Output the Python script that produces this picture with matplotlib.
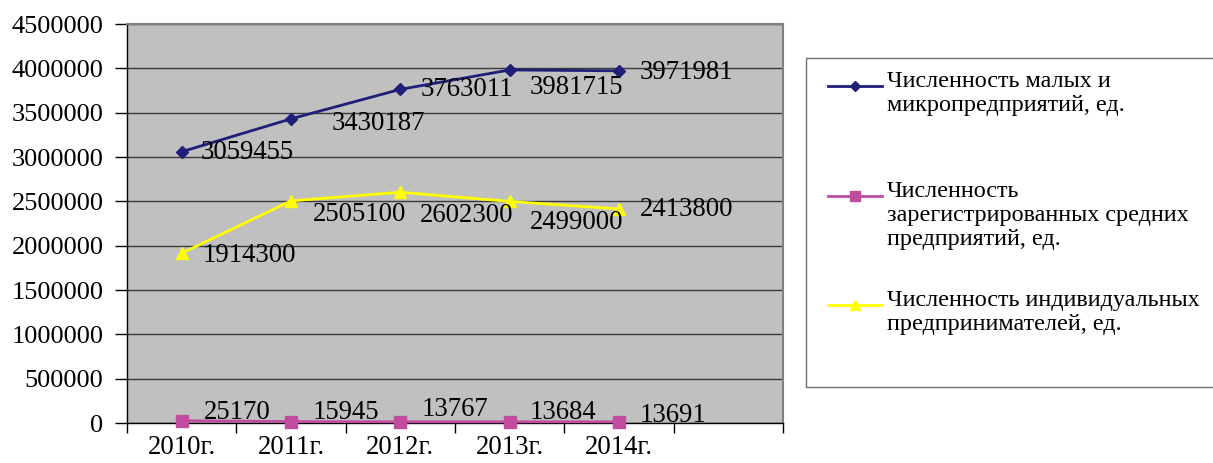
import matplotlib
matplotlib.use("Agg")
import matplotlib.pyplot as plt
from matplotlib.lines import Line2D
from matplotlib.patches import Rectangle

# --- data ---
years = ["2010г.", "2011г.", "2012г.", "2013г.", "2014г."]
small_micro = [3059455, 3430187, 3763011, 3981715, 3971981]
medium = [25170, 15945, 13767, 13684, 13691]
entrepreneurs = [1914300, 2505100, 2602300, 2499000, 2413800]

series_names = [
    "Численность малых и\nмикропредприятий, ед.",
    "Численность\nзарегистрированных средних\nпредприятий, ед.",
    "Численность индивидуальных\nпредпринимателей, ед.",
]

# label offsets in pixels (dx, dy) relative to each point, picked by eye
small_offsets = [(19, -1), (41, -5), (20, 0), (20, -18), (21, -2)]
medium_offsets = [(22, 8), (22, 9), (21, 12), (20, 9), (21, 6)]
entre_offsets = [(21, -2), (22, -14), (20, -23), (20, -21), (21, -1)]

plt.rcParams["font.family"] = ["Liberation Serif", "DejaVu Serif"]

fig = plt.figure(figsize=(12.13, 4.63), dpi=100)
ax = fig.add_axes([127 / 1213, 1 - 423 / 463, 656 / 1213, 399 / 463])
ax.set_facecolor("#c0c0c0")

x = list(range(len(years)))
styles = [
    (small_micro, "#1f1f7a", "D", 6, small_offsets),
    (medium, "#c04ca0", "s", 8, medium_offsets),
    (entrepreneurs, "#ffff00", "^", 8, entre_offsets),
]
handles = []
for vals, col, mk, ms, offs in styles:
    h, = ax.plot(x, vals, color=col, marker=mk, markersize=ms, linewidth=2,
                 markeredgecolor=col, zorder=3, clip_on=False)
    handles.append(h)
    for xi, v, (dx, dy) in zip(x, vals, offs):
        ax.annotate(str(v), (xi, v), xytext=(dx, dy), textcoords="offset pixels",
                    ha="left", va="center", fontsize=19.3, color="black", zorder=4)

ax.set_xlim(-0.5, 5.5)
ax.set_ylim(0, 4500000)
ax.set_yticks(range(0, 4500001, 500000))
ax.set_yticklabels([str(v) for v in range(0, 4500001, 500000)])
ax.yaxis.grid(True, color="#3a3a3a", linewidth=1)
ax.set_axisbelow(True)

ax.set_xticks([i - 0.5 for i in range(7)])
ax.set_xticklabels([])
ax.set_xticks(x, minor=True)
ax.set_xticklabels(years, minor=True)
ax.tick_params(axis="x", which="major", length=7, width=1, direction="out", color="black")
ax.tick_params(axis="x", which="minor", length=0, pad=9, labelsize=19.3)
ax.tick_params(axis="y", length=9, width=1, direction="out", pad=8, labelsize=19)

for side in ("top", "right"):
    ax.spines[side].set_color("#808080")
    ax.spines[side].set_linewidth(1.5)
for side in ("left", "bottom"):
    ax.spines[side].set_color("black")
    ax.spines[side].set_linewidth(1)

# legend box drawn by hand so the entry spacing matches the reference
W, H = 1213, 463
fig.patches.append(Rectangle((806 / W, 1 - 387 / H), 420 / W, 329 / H,
                             transform=fig.transFigure, facecolor="white",
                             edgecolor="#707070", linewidth=1))
for h, name, ly in zip(handles, series_names, [86, 196, 305]):
    fig.lines.append(Line2D([828 / W, 882 / W], [1 - ly / H] * 2, transform=fig.transFigure,
                            color=h.get_color(), linewidth=2))
    fig.lines.append(Line2D([855 / W], [1 - ly / H], transform=fig.transFigure,
                            color=h.get_color(), marker=h.get_marker(),
                            markersize=h.get_markersize() - 1, linestyle="none"))
    fig.text(887 / W, 1 - (ly - 15) / H, name, fontsize=17.4, va="top", ha="left",
             linespacing=1.2)

fig.savefig("out.png", dpi=100)
